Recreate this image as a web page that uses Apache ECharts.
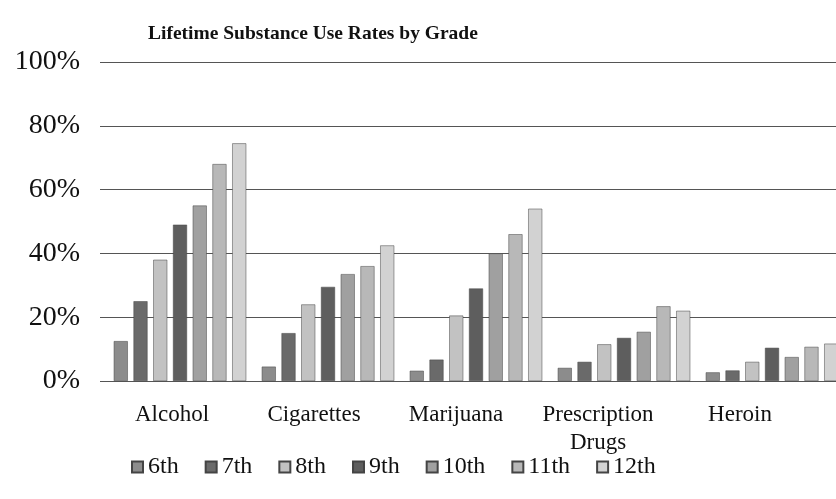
<!DOCTYPE html>
<html><head><meta charset="utf-8">
<script src="https://cdn.jsdelivr.net/npm/echarts@6/dist/echarts.min.js"></script>
<style>html,body{margin:0;padding:0;background:#fff}#c{width:836px;height:499px}</style>
</head><body><div id="c"></div>
<script>
const categories = ['Alcohol', 'Cigarettes', 'Marijuana', 'Prescription\nDrugs', 'Heroin'];
const grades = ['6th', '7th', '8th', '9th', '10th', '11th', '12th'];
const g6  = [12.5, 4.5, 3.2, 4.1, 2.7];
const g7  = [25, 15, 6.7, 6, 3.3];
const g8  = [38, 24, 20.5, 11.5, 6];
const g9  = [49, 29.5, 29, 13.5, 10.4];
const g10 = [55, 33.5, 40, 15.4, 7.5];
const g11 = [68, 36, 46, 23.4, 10.7];
const g12 = [74.5, 42.5, 54, 22, 11.7];
const yTicks = [0, 20, 40, 60, 80, 100];
const colors = ['#8c8c8c', '#6a6a6a', '#c2c2c2', '#5e5e5e', '#a0a0a0', '#b8b8b8', '#d2d2d2'];
const seriesData = [g6, g7, g8, g9, g10, g11, g12];
const serif = 'Liberation Serif';
const chart = echarts.init(document.getElementById('c'));
chart.setOption({
  animation: false,
  title: { text: 'Lifetime Substance Use Rates by Grade', left: 143, top: 19,
    textStyle: { fontFamily: serif, fontWeight: 'bold', fontSize: 19.5, color: '#111' } },
  legend: { data: grades, left: 126, top: 450, itemWidth: 11, itemHeight: 11, itemGap: 26,
    icon: 'rect', textStyle: { fontFamily: serif, fontSize: 24, color: '#111' } },
  grid: [
    { left: 100, right: 0, top: 62, bottom: 118 },
    { left: 106, width: 740, top: 62, bottom: 118, outerBoundsMode: 'none', containLabel: false },
    { left: 101, right: 25, top: 62, bottom: 118 }
  ],
  xAxis: [
    { type: 'category', gridIndex: 0, data: categories, show: false },
    { type: 'category', gridIndex: 1, data: categories, axisLine: { show: false }, axisTick: { show: false }, axisLabel: { show: false } },
    { type: 'category', gridIndex: 2, data: categories, axisLine: { show: false }, axisTick: { show: false },
      axisLabel: { interval: 0, fontFamily: serif, fontSize: 23, color: '#111', margin: 20, lineHeight: 28 } }
  ],
  yAxis: [
    { type: 'value', gridIndex: 0, min: 0, max: 100, interval: 20,
      axisLabel: { formatter: v => yTicks.includes(v) ? v + '%' : '', fontFamily: serif, fontSize: 28, color: '#111', margin: 20 },
      splitLine: { lineStyle: { color: '#555', width: 1 } }, axisLine: { show: false }, axisTick: { show: false } },
    { type: 'value', gridIndex: 1, min: 0, max: 100, interval: 20, show: false, splitLine: { show: false } },
    { type: 'value', gridIndex: 2, min: 0, max: 100, interval: 20, show: false, splitLine: { show: false } }
  ],
  series: seriesData.map((d, i) => ({
    name: grades[i], type: 'bar', xAxisIndex: 1, yAxisIndex: 1, data: d,
    barWidth: 14, barGap: '41%', itemStyle: { color: colors[i], borderColor: '#444', borderWidth: 0.5 }
  }))
});
</script></body></html>
